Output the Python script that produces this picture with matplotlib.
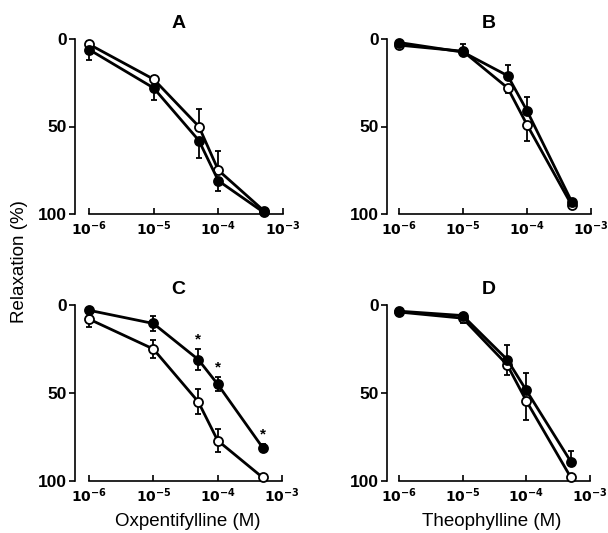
import numpy as np
import matplotlib
matplotlib.use("Agg")
import matplotlib.pyplot as plt

plt.rcParams['font.family'] = ['Liberation Sans', 'DejaVu Sans']

conc = [1e-6, 1e-5, 5e-5, 1e-4, 5e-4]

# panel A
a_open = [3, 23, 50, 75, 98]
a_open_err = [2, 2, 10, 11, 1]
a_fill = [6, 28, 58, 81, 99]
a_fill_err = [6, 7, 10, 6, 1]

# panel B
b_open = [3.5, 7, 28, 49, 95]
b_open_err = [1, 1, 3, 9.5, 1]
b_fill = [2, 7.5, 21, 41, 93]
b_fill_err = [1, 4.5, 6, 8, 1]

# panel C
c_open = [8, 25, 55, 77, 98]
c_open_err = [4.5, 5, 7, 6.5, 1]
c_fill = [3, 10.5, 31, 45, 81]
c_fill_err = [1, 4.5, 6, 4, 2]
c_star = [False, False, True, True, True]

# panel D
d_open = [4, 7.5, 34, 54.5, 98]
d_open_err = [1, 2.5, 6, 11, 1]
d_fill = [3.5, 6, 31, 48.5, 89]
d_fill_err = [1, 1, 8.5, 10, 6]

# error bars drawn on one side only: 'up' = towards 0, 'down' = towards 100, 'both'
panels = [
    ('A', a_open, a_open_err, 'up', a_fill, a_fill_err, 'down', None),
    ('B', b_open, b_open_err, 'down', b_fill, b_fill_err, 'up', None),
    ('C', c_open, c_open_err, 'both', c_fill, c_fill_err, 'both', c_star),
    ('D', d_open, d_open_err, 'down', d_fill, d_fill_err, 'up', None),
]

# pixel boxes: y spine x, x axis start (1e-6), x axis end (1e-3), top (0), bottom (100)
boxes = [
    (75, 89, 283, 39, 214),
    (387, 399, 591, 39, 214),
    (75, 89, 282, 305, 481),
    (387, 399, 590, 305, 481),
]

W, H = 608, 533
fig = plt.figure(figsize=(W / 100, H / 100), dpi=100)


def err_arr(err, side):
    err = np.array(err, dtype=float)
    zero = np.zeros_like(err)
    if side == 'up':
        return [err, zero]
    if side == 'down':
        return [zero, err]
    return [err, err]


for (label, op, ope, ops, fl, fle, fls, star), (ys, x0, x1, top, bot) in zip(panels, boxes):
    ax = fig.add_axes([ys / W, 1 - bot / H, (x1 - ys) / W, (bot - top) / H])
    ax.set_xscale('log')
    dec = (x1 - x0) / 3
    ax.set_xlim(10 ** (-6 - (x0 - ys) / dec), 1e-3)
    ax.set_ylim(100, 0)

    for vals, err, side, face in [(op, ope, ops, 'white'), (fl, fle, fls, 'black')]:
        ax.errorbar(conc, vals, yerr=err_arr(err, side), color='black', lw=2,
                    marker='o', ms=6.5, mfc=face, mec='black', mew=1.3,
                    capsize=2.5, capthick=1.3, elinewidth=1.3, clip_on=False,
                    zorder=3 if face == 'white' else 4)

    if star is not None:
        for x, v, e, s in zip(conc, fl, fle, star):
            if s:
                ax.text(x, v - e - 1.5, '*', ha='center', va='bottom',
                        fontsize=11, fontweight='bold')

    ax.spines['top'].set_visible(False)
    ax.spines['right'].set_visible(False)
    ax.spines['left'].set_bounds(100, 0)
    ax.spines['bottom'].set_bounds(1e-6, 1e-3)
    for sp in ax.spines.values():
        sp.set_linewidth(1.2)

    ax.set_xticks([1e-6, 1e-5, 1e-4, 1e-3])
    ax.set_xticklabels(['$\\mathbf{10^{-6}}$', '$\\mathbf{10^{-5}}$',
                        '$\\mathbf{10^{-4}}$', '$\\mathbf{10^{-3}}$'])
    ax.xaxis.set_minor_locator(matplotlib.ticker.NullLocator())
    ax.set_yticks([0, 50, 100])
    ax.set_yticklabels(['0', '50', '100'], fontweight='bold')
    ax.tick_params(axis='x', direction='in', length=4, width=1.2, labelsize=10, pad=4)
    ax.tick_params(axis='y', direction='out', length=4, width=1.2, labelsize=12.5, pad=2)

    ax.set_title(label, fontsize=14, fontweight='bold', pad=8)

fig.text(20 / W, 1 - 262 / H, 'Relaxation (%)', rotation=90, ha='center', va='center', fontsize=13.5)
fig.text(188 / W, 1 - 522 / H, 'Oxpentifylline (M)', ha='center', va='center', fontsize=13.5)
fig.text(492 / W, 1 - 522 / H, 'Theophylline (M)', ha='center', va='center', fontsize=13.5)

fig.savefig('out.png', dpi=100)
